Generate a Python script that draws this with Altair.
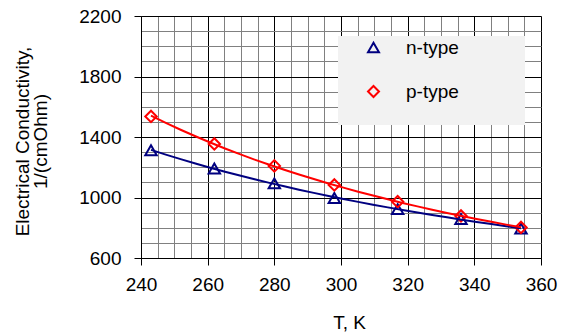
import altair as alt
import pandas as pd

# ---- data ----
series_names = ["n-type", "p-type"]
T_n = [243, 262, 280, 298, 317, 336, 354]
sigma_n = [1312, 1192, 1093, 997, 923, 858, 795]
T_p = [243, 262, 280, 298, 317, 336, 354]
sigma_p = [1536, 1354, 1209, 1083, 972, 878, 802]

x_ticks = list(range(240, 365, 5))
y_ticks = list(range(600, 2300, 100))

df = pd.DataFrame(
    {"T": T_n + T_p,
     "sigma": sigma_n + sigma_p,
     "series": [series_names[0]] * len(T_n) + [series_names[1]] * len(T_p)}
)

FONT = "Liberation Sans"
colors = ["#000080", "#ff0000"]
shapes = ["triangle-up", "diamond"]
MINOR = "#808080"

x_axis = alt.Axis(
    values=x_ticks, grid=True,
    gridColor=alt.condition("datum.value % 20 === 0", alt.value("black"), alt.value(MINOR)),
    gridWidth=1,
    tickColor="black",
    tickOpacity=alt.condition("datum.value % 20 === 0", alt.value(1), alt.value(0)),
    tickSize=7,
    labelExpr="datum.value % 20 === 0 ? datum.label : ''",
    labelFontSize=19, labelFont=FONT, labelColor="black",
    labelPadding=10, labelFlush=False, labelOverlap=False,
    domainColor="black",
    title="T, K", titleFontSize=19, titleFont=FONT, titleFontWeight="normal",
    titleColor="black", titleX=208, titleY=70, titleBaseline="alphabetic",
    titleAlign="center",
)
y_axis = alt.Axis(
    values=y_ticks, grid=True,
    gridColor=alt.condition("datum.value % 400 === 200", alt.value("black"), alt.value(MINOR)),
    gridWidth=1,
    tickColor="black",
    tickOpacity=alt.condition("datum.value % 400 === 200", alt.value(1), alt.value(0)),
    tickSize=7,
    labelExpr="datum.value % 400 === 200 ? datum.label : ''",
    labelFontSize=19, labelFont=FONT, labelColor="black",
    labelPadding=13, labelFlush=False, labelOverlap=False,
    domainColor="black", format="d",
    title=["Electrical Conductivity,", "1/(cmOhm)"], titleFontSize=19, titleFont=FONT,
    titleFontWeight="normal", titleColor="black", titleAngle=270,
    titleX=-113, titleY=125, titleBaseline="alphabetic", titleAlign="center",
    titleLineHeight=18,
)

xs = alt.Scale(domain=[240, 360], nice=False)
ys = alt.Scale(domain=[600, 2200], nice=False)

base = alt.Chart(df)

legend_bg = alt.Chart(pd.DataFrame({"a": [0]})).mark_rect(fill="#f2f2f2").encode(
    x=alt.value(197), x2=alt.value(384), y=alt.value(20), y2=alt.value(109)
)

lines = base.transform_regression(
    "T", "sigma", groupby=["series"], method="pow"
).mark_line(strokeWidth=2).encode(
    x=alt.X("T:Q", scale=xs, axis=x_axis),
    y=alt.Y("sigma:Q", scale=ys, axis=y_axis),
    color=alt.Color("series:N", scale=alt.Scale(domain=series_names, range=colors), legend=None),
)

legend = alt.Legend(
    title=None, orient="none", legendX=223, legendY=22,
    labelFontSize=19, labelFont=FONT, labelColor="black",
    symbolStrokeWidth=2, symbolSize=120, labelOffset=23, rowPadding=24, padding=0,
)

points = base.mark_point(filled=False, strokeWidth=2, size=130, opacity=1).encode(
    x=alt.X("T:Q", scale=xs, axis=x_axis),
    y=alt.Y("sigma:Q", scale=ys, axis=y_axis),
    color=alt.Color("series:N", scale=alt.Scale(domain=series_names, range=colors), legend=legend),
    shape=alt.Shape("series:N", scale=alt.Scale(domain=series_names, range=shapes), legend=legend),
)

chart = alt.layer(legend_bg, points, lines).properties(
    width=400, height=242,
    autosize=alt.AutoSizeParams(type="none"),
    padding={"left": 133, "top": 8, "right": 20, "bottom": 78},
).configure_view(stroke=None).configure(font=FONT)

chart.save("out.html", embed_options={"renderer": "svg", "actions": False})
